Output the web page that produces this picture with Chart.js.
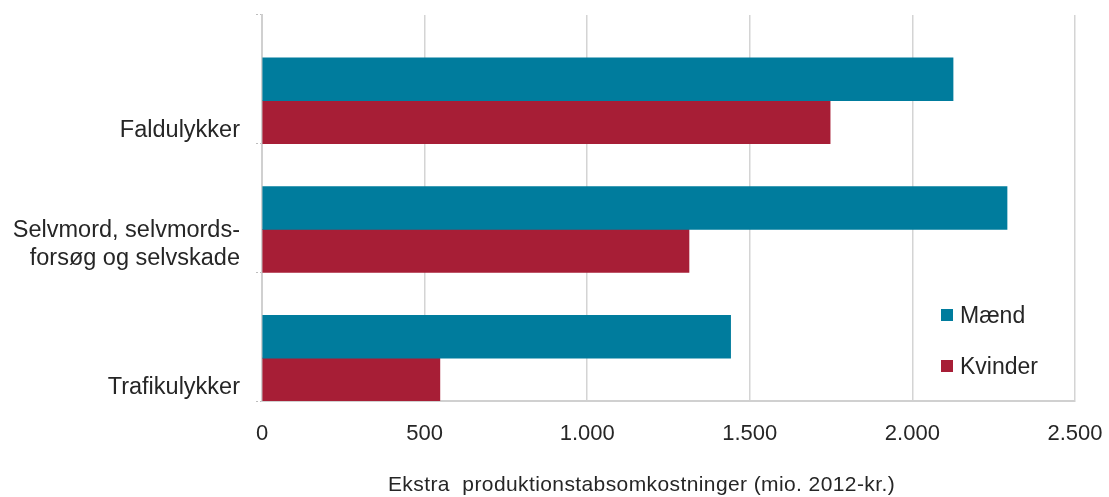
<!DOCTYPE html>
<html>
<head>
<meta charset="utf-8">
<script src="https://cdn.jsdelivr.net/npm/chart.js@4.4.1/dist/chart.umd.min.js"></script>
<style>
  html, body { margin: 0; padding: 0; background: #ffffff; }
  #wrap { width: 1109px; height: 497px; position: relative; }
</style>
</head>
<body>
<div id="wrap"><canvas id="c" width="1109" height="497"></canvas></div>
<script>
const categories = ["Faldulykker", ["Selvmord, selvmords-", "forsøg og selvskade", ""], "Trafikulykker"];
const seriesNames = ["Mænd", "Kvinder"];
const maendValues = [2125, 2291, 1441];
const kvinderValues = [1747, 1313, 547];
const spacerValues = [null, null, null];
const xTicks = [0, 500, 1000, 1500, 2000, 2500];
const xTitle = "Ekstra  produktionstabsomkostninger (mio. 2012-kr.)";

const teal = "#007C9D";
const crimson = "#A71E36";
const textColor = "#262626";
const fontFamily = "'Liberation Sans', Arial, sans-serif";

const legendPlugin = {
  id: 'insideLegend',
  afterDraw(chart) {
    const ctx = chart.ctx;
    ctx.save();
    ctx.font = "23px " + fontFamily;
    ctx.textBaseline = "alphabetic";
    const items = chart.data.datasets.filter(d => d.label);
    items.forEach((d, i) => {
      const y = 315 + i * 51;
      ctx.fillStyle = d.backgroundColor;
      ctx.fillRect(941, y - 6, 12, 12);
      ctx.fillStyle = textColor;
      ctx.fillText(d.label, 960, y + 8);
    });
    ctx.restore();
  }
};

const axisTitlePlugin = {
  id: 'xAxisTitle',
  afterDraw(chart) {
    const ctx = chart.ctx;
    const area = chart.chartArea;
    ctx.save();
    ctx.font = "21px " + fontFamily;
    if ('letterSpacing' in ctx) ctx.letterSpacing = "0.4px";
    ctx.fillStyle = textColor;
    ctx.textAlign = "center";
    ctx.textBaseline = "alphabetic";
    ctx.fillText(xTitle, (area.left + area.right) / 2 - 27, 491);
    ctx.restore();
  }
};

new Chart(document.getElementById('c'), {
  type: 'bar',
  data: {
    labels: categories,
    datasets: [
      { label: "", data: spacerValues, backgroundColor: "rgba(0,0,0,0)" },
      { label: seriesNames[0], data: maendValues, backgroundColor: teal },
      { label: seriesNames[1], data: kvinderValues, backgroundColor: crimson }
    ]
  },
  options: {
    indexAxis: 'y',
    responsive: false,
    animation: false,
    devicePixelRatio: 1,
    categoryPercentage: 1.0,
    barPercentage: 1.0,
    layout: { padding: { left: 0, right: 34, top: 15, bottom: 0 } },
    plugins: {
      legend: { display: false },
      tooltip: { enabled: false },
      title: { display: false }
    },
    scales: {
      x: {
        type: 'linear',
        min: 0,
        max: 2500,
        afterBuildTicks(scale) { scale.ticks = xTicks.map(v => ({ value: v })); },
        afterFit(scale) {
          scale.height = 96;
          scale.paddingLeft = 0;
          scale.paddingRight = 0;
        },
        grid: { color: '#d4d4d4', lineWidth: 1.5, drawTicks: false },
        border: { display: true, color: '#d0d0d0', width: 2 },
        ticks: {
          padding: 20,
          color: textColor,
          font: { family: fontFamily, size: 22 },
          callback: (v) => v.toLocaleString('da-DK')
        }
      },
      y: {
        afterFit(scale) {
          scale.width = 262;
          scale.paddingTop = 0;
          scale.paddingBottom = 0;
        },
        grid: {
          offset: true,
          drawOnChartArea: false,
          drawTicks: true,
          tickLength: 6,
          color: '#bdbdbd',
          lineWidth: 1,
          tickBorderDash: [2, 2]
        },
        border: { display: true, color: '#d0d0d0', width: 2 },
        ticks: {
          padding: 16,
          labelOffset: 51,
          color: textColor,
          font: { family: fontFamily, size: 23.5, lineHeight: 1.2 }
        }
      }
    }
  },
  plugins: [legendPlugin, axisTitlePlugin]
});
</script>
</body>
</html>
